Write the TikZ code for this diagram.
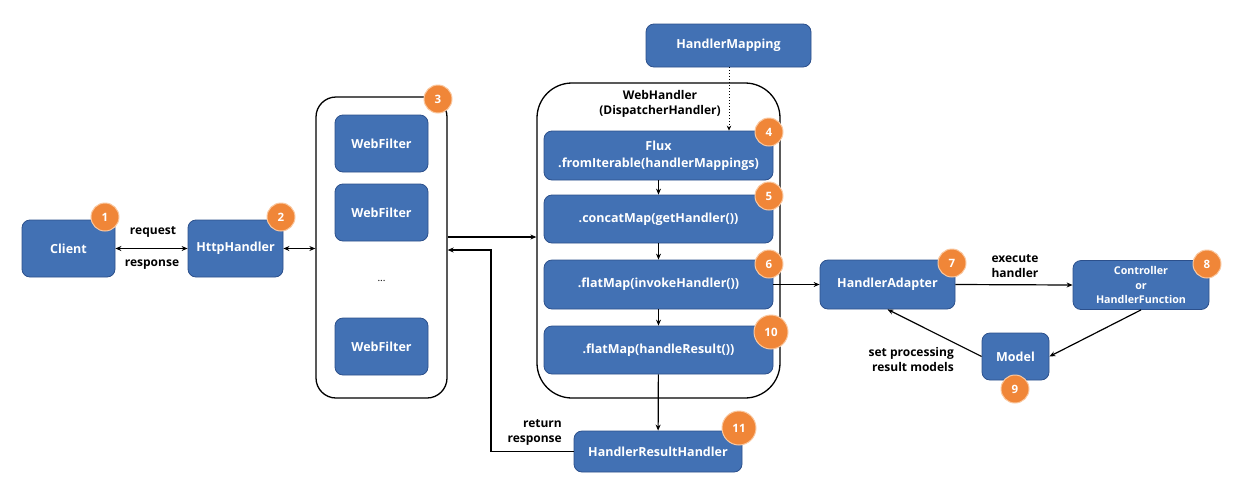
\documentclass[tikz,border=0pt]{standalone}
\usepackage{fontspec}
\setmainfont{Open Sans}
\usetikzlibrary{arrows.meta}
\definecolor{boxblue}{RGB}{66,113,180}
\definecolor{boxedge}{RGB}{44,80,140}
\definecolor{badgeor}{RGB}{240,134,56}
\definecolor{badgering}{RGB}{250,200,160}
\begin{document}
\begin{tikzpicture}[x=1pt,y=-1pt,
  bluebox/.style={draw=boxedge, fill=boxblue, rounded corners=8pt, text=white,
    font=\bfseries\fontsize{12.5}{16.5}\selectfont, align=center, line width=0.8pt, inner sep=0pt},
  badge/.style={circle, fill=badgeor, draw=badgering, line width=1pt, text=white,
    font=\bfseries\fontsize{11.5}{13}\selectfont, minimum size=28pt, inner sep=0pt},
  bigbadge/.style={badge, minimum size=34pt},
  container/.style={draw=black, line width=1.3pt, inner sep=0pt},
  lbl/.style={font=\bfseries\fontsize{12}{15}\selectfont, align=center, inner sep=0pt},
  arr/.style={line width=1.2pt, -{Stealth[length=6pt,width=5pt]}},
  darr/.style={line width=1.2pt, {Stealth[length=6pt,width=5pt]}-{Stealth[length=6pt,width=5pt]}}
]
\useasboundingbox[fill=white] (0,0) rectangle (1240,496);

% containers
\node[container, rounded corners=20pt, minimum width=131pt, minimum height=301pt] (filters) at (381.5,247.5) {};
\node[container, rounded corners=35pt, minimum width=243pt, minimum height=315pt] (webh) at (658.5,240.5) {};

% left boxes
\node[bluebox, minimum width=93pt, minimum height=57pt] (client) at (68.5,248.5) {Client};
\node[bluebox, minimum width=95pt, minimum height=57pt] (http) at (235.5,248.5) {HttpHandler};

% web filters
\node[bluebox, minimum width=93pt, minimum height=57pt] (wf1) at (381.5,143.5) {WebFilter};
\node[bluebox, minimum width=93pt, minimum height=57pt] (wf2) at (381.5,212.5) {WebFilter};
\node[font=\fontsize{10}{12}\selectfont] (dots) at (381.5,281) {...};
\node[bluebox, minimum width=93pt, minimum height=57pt] (wf3) at (381.5,346.5) {WebFilter};

% web handler
\node[lbl] (whtitle) at (660,104) {WebHandler\\(DispatcherHandler)};
\node[bluebox, minimum width=165pt, minimum height=43pt] (hm) at (728.5,45.5) {HandlerMapping};
\node[bluebox, minimum width=229pt, minimum height=49pt] (flux) at (658.5,155.5) {Flux\\.fromIterable(handlerMappings)};
\node[bluebox, minimum width=229pt, minimum height=48pt] (concat) at (658.5,219) {.concatMap(getHandler())};
\node[bluebox, minimum width=229pt, minimum height=49pt] (invoke) at (658.5,284.5) {.flatMap(invokeHandler())};
\node[bluebox, minimum width=229pt, minimum height=48pt] (hres) at (658.5,350) {.flatMap(handleResult())};
\node[bluebox, minimum width=168pt, minimum height=41pt] (hrh) at (658,451.5) {HandlerResultHandler};

% right side
\node[bluebox, minimum width=135pt, minimum height=49pt] (adapter) at (887.5,284.5) {HandlerAdapter};
\node[bluebox, minimum width=136pt, minimum height=49pt, font=\bfseries\fontsize{10.7}{14.5}\selectfont] (ctrl) at (1141,285) {Controller\\or\\HandlerFunction};
\node[bluebox, minimum width=67pt, minimum height=47pt] (model) at (1015.5,356.5) {Model};

% badges
\node[badge] (b1) at (105,217) {1};
\node[badge] (b2) at (281,217) {2};
\node[badge] (b3) at (438,99) {3};
\node[badge] (b4) at (769,132) {4};
\node[badge] (b5) at (769,196) {5};
\node[badge] (b6) at (769,264) {6};
\node[badge] (b7) at (952,263) {7};
\node[badge] (b8) at (1207,264) {8};
\node[badge] (b9) at (1015,389) {9};
\node[bigbadge] (b10) at (771,332) {10};
\node[bigbadge] (b11) at (739,428) {11};

% connectors
\draw[darr] (client.east) -- (http.west);
\node[lbl] (lreq) at (153,232) {request};
\node[lbl] (lresp) at (152,265) {response};
\draw[darr] (http.east) -- (http.east -| filters.west);

\coordinate (f2w) at (filters.east |- 0,237);
\draw[arr] (f2w) -- (f2w -| webh.west);

\coordinate (retx) at (491,0);
\draw[arr] (hrh.west) -- (hrh.west -| retx) -- (retx |- 0,250) -- (filters.east |- 0,250);
\node[lbl, align=right, anchor=east] (lret) at (562,432) {return\\response};

\draw[line width=1pt, dotted, -{Stealth[length=5pt,width=4.5pt]}] (hm.south -| 729,0) -- (flux.north -| 729,0);
\draw[arr] (flux) -- (concat);
\draw[arr] (concat) -- (invoke);
\draw[arr] (invoke) -- (hres);
\draw[arr] (hres) -- (hrh);

\draw[arr] (invoke.east) -- (adapter.west);
\draw[arr] (adapter.east) -- (ctrl.west);
\node[lbl] (lexec) at (1015,266) {execute\\handler};
\draw[arr] (ctrl.south) -- (model.east);
\draw[arr] (model.west) -- (adapter.south);
\node[lbl, align=right, anchor=east] (lset) at (954,359) {set processing\\result models};
\end{tikzpicture}
\end{document}
